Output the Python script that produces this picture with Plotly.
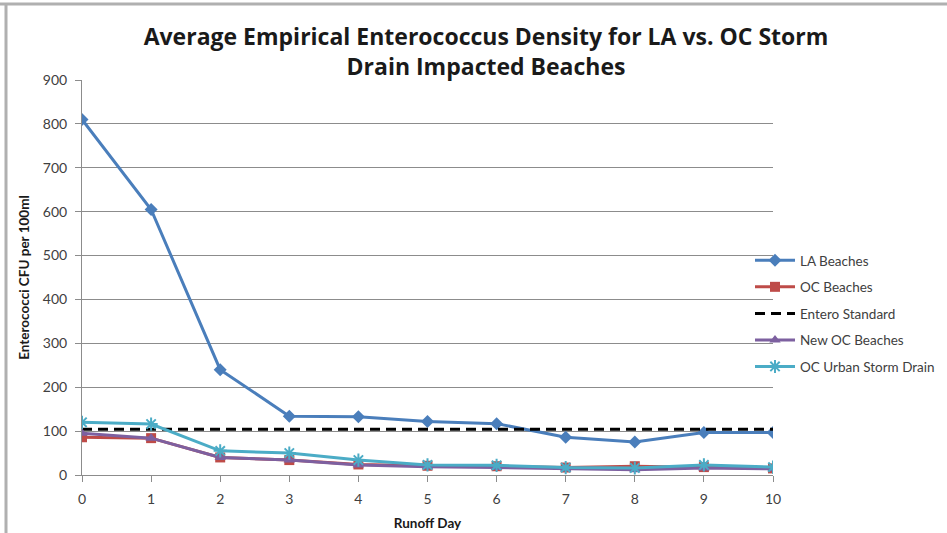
import plotly.graph_objects as go

# Runoff days and average Enterococcus densities (CFU per 100 ml)
days = [0, 1, 2, 3, 4, 5, 6, 7, 8, 9, 10]
la_beaches = [810, 605, 240, 134, 133, 122, 117, 86, 75, 97, 97]
oc_beaches = [86, 84, 40, 34, 24, 21, 20, 17, 20, 18, 15]
entero_standard = [104] * len(days)
new_oc_beaches = [95, 84, 40, 34, 23, 19, 17, 14, 12, 16, 14]
oc_urban_storm_drain = [120, 116, 55, 50, 34, 23, 22, 17, 16, 23, 18]

y_ticks = [0, 100, 200, 300, 400, 500, 600, 700, 800, 900]

# Plot area in pixels (figure is 947 x 533)
W, H = 947, 533
L, R, T, B = 82, 174, 80, 58
pw, ph = W - L - R, H - T - B


def px_x(p):
    return (p - L) / pw


def px_y(q):
    return (H - B - q) / ph


fig = go.Figure()

series = [
    ("LA Beaches", la_beaches, "#4A7EBB", "diamond", None),
    ("OC Beaches", oc_beaches, "#BE4B48", "square", None),
    ("Entero Standard", entero_standard, "#000000", None, "10px,6px"),
    ("New OC Beaches", new_oc_beaches, "#7D60A0", "triangle-up", None),
    ("OC Urban Storm Drain", oc_urban_storm_drain, "#4BACC6", "asterisk-open", None),
]

for name, vals, color, symbol, dash in series:
    if symbol is None:
        fig.add_trace(go.Scatter(
            x=days, y=vals, name=name, mode="lines",
            line=dict(color=color, width=3, dash=dash),
            legendgroup=name,
        ))
    else:
        marker = dict(symbol=symbol, size=10, color=color)
        if symbol == "asterisk-open":
            marker.update(size=11, line=dict(color=color, width=2))
        fig.add_trace(go.Scatter(
            x=days, y=vals, name=name, mode="lines+markers",
            line=dict(color=color, width=3),
            marker=marker,
            legendgroup=name,
        ))

fig.update_layout(
    width=W, height=H,
    margin=dict(l=L, r=R, t=T, b=B, autoexpand=False),
    paper_bgcolor="white",
    plot_bgcolor="white",
    font=dict(family="Lato, 'Open Sans', sans-serif", color="#404040"),
    title=dict(
        text="Average Empirical Enterococcus Density for LA vs. OC Storm<br>Drain Impacted Beaches",
        x=486 / W, xanchor="center",
        y=1 - 45 / H, yanchor="middle",
        font=dict(family="Open Sans", size=23, color="#1a1a1a", weight="bold"),
    ),
    legend=dict(
        x=px_x(750), xanchor="left",
        y=px_y(245), yanchor="top",
        font=dict(family="Lato", size=13.5, color="#404040"),
        tracegroupgap=6,
        itemwidth=40,
        bgcolor="rgba(0,0,0,0)",
    ),
    showlegend=True,
)

fig.update_xaxes(
    range=[0, 10],
    tickvals=days,
    automargin=False,
    ticks="outside", ticklen=6, tickcolor="#8c8c8c",
    ticklabelstandoff=5,
    showline=True, linecolor="#8c8c8c", linewidth=1,
    showgrid=False, zeroline=False,
    tickfont=dict(size=14, color="#404040"),
    title=dict(text="<b>Runoff Day</b>", font=dict(size=13.5, color="#1a1a1a"), standoff=12),
)

fig.update_yaxes(
    range=[0, 900],
    tickvals=y_ticks,
    automargin=False,
    ticks="outside", ticklen=6, tickcolor="#8c8c8c",
    ticklabelstandoff=5,
    showline=True, linecolor="#8c8c8c", linewidth=1,
    showgrid=True, gridcolor="#8c8c8c", gridwidth=1,
    zeroline=False,
    tickfont=dict(size=14, color="#404040"),
    title=dict(text="<b>Enterococci CFU per 100ml</b>", font=dict(size=13.5, color="#1a1a1a"), standoff=10),
)

# Chart frame along the top and left edges
fig.add_shape(type="line", xref="paper", yref="paper",
              x0=px_x(0), x1=px_x(W), y0=px_y(4), y1=px_y(4),
              line=dict(color="#b0b0b0", width=3))
fig.add_shape(type="line", xref="paper", yref="paper",
              x0=px_x(6), x1=px_x(6), y0=px_y(4), y1=px_y(H),
              line=dict(color="#b0b0b0", width=3))

fig.write_html("out.html")
